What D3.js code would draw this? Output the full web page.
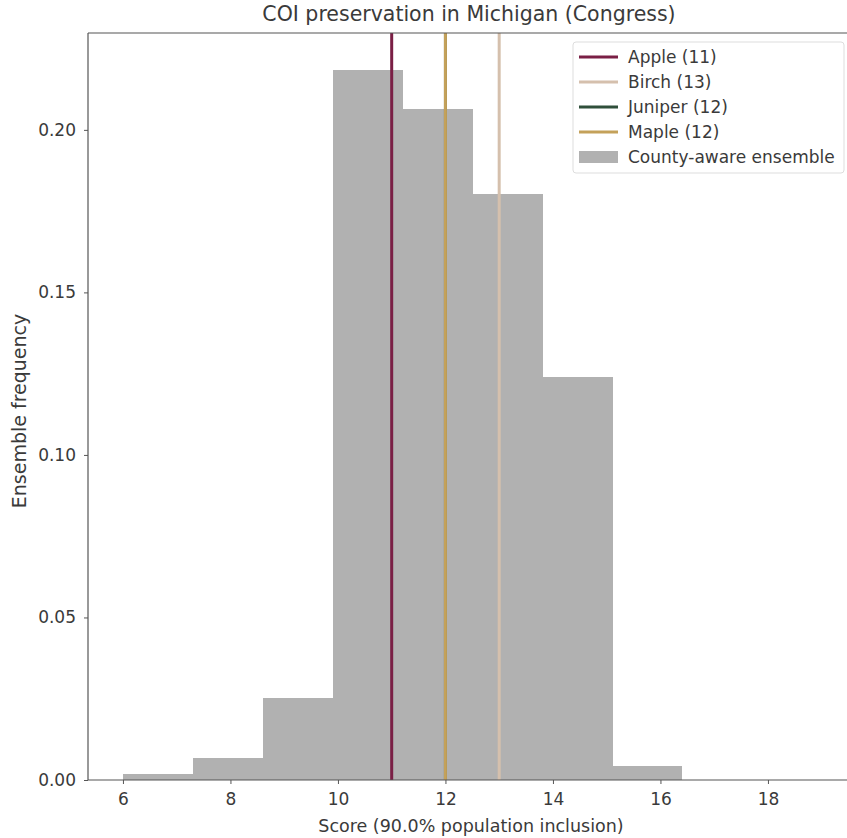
<!DOCTYPE html>
<html><head><meta charset="utf-8">
<script src="https://cdn.jsdelivr.net/npm/d3@7"></script>
<style>body{margin:0;background:#fff;} text{font-family:"DejaVu Sans",sans-serif;}</style>
</head><body>
<svg id="chart" width="847" height="838"></svg>
<script>
// Histogram bin edges (score) and density values
const binEdges = [6.0, 7.3, 8.6, 9.9, 11.2, 12.5, 13.8, 15.1, 16.4, 17.7, 19.0];
const binDensity = [0.0018, 0.0068, 0.0252, 0.2185, 0.2065, 0.1803, 0.1240, 0.0043, 0.0, 0.0];
// Plan scores (vertical lines)
const planNames = ["Apple", "Birch", "Juniper", "Maple"];
const planScores = [11, 13, 12, 12];
const planColors = ["#7a1f45", "#d5c0ad", "#2f4f3a", "#c4a15a"];
const xTicks = [6, 8, 10, 12, 14, 16, 18];
const yTicks = [0.00, 0.05, 0.10, 0.15, 0.20];
const ensembleLabel = "County-aware ensemble";
const barColor = "#b1b1b1";

const svg = d3.select("#chart");
const L = 88, T = 33, B = 780;
const x = d3.scaleLinear().domain([5.35, 19.65]).range([L, L + (19.65-5.35)*53.75]);
const y = d3.scaleLinear().domain([0, 0.2298]).range([B, T]);
const R = x(19.65);

const g = svg.append("g");
// bars
g.selectAll("rect.bar").data(binDensity).enter().append("rect")
  .attr("x", (d,i)=>x(binEdges[i]))
  .attr("width", (d,i)=>x(binEdges[i+1])-x(binEdges[i]) + 0.5)
  .attr("y", d=>y(d))
  .attr("height", d=>B-y(d))
  .attr("fill", barColor)
  .attr("shape-rendering", "crispEdges");
// vertical lines
g.selectAll("line.plan").data(planScores).enter().append("line")
  .attr("x1", d=>x(d)).attr("x2", d=>x(d))
  .attr("y1", T).attr("y2", B)
  .attr("stroke", (d,i)=>planColors[i]).attr("stroke-width", 3);

// axes
const xAxis = d3.axisBottom(x).tickValues(xTicks).tickFormat(d3.format("d")).tickSize(4).tickPadding(9);
const yAxis = d3.axisLeft(y).tickValues(yTicks).tickFormat(d3.format(".2f")).tickSize(4).tickPadding(8);
const gx = svg.append("g").attr("transform", `translate(0,${B})`).call(xAxis);
const gy = svg.append("g").attr("transform", `translate(${L},0)`).call(yAxis);
[gx, gy].forEach(a=>{
  a.select(".domain").remove();
  a.selectAll("text").attr("font-size", 17).attr("fill", "#3a3a3a");
  a.selectAll("line").attr("stroke", "#555");
});
// spines
svg.append("line").attr("x1", L).attr("x2", L).attr("y1", T).attr("y2", B).attr("stroke", "#555").attr("stroke-width", 1.2);
svg.append("line").attr("x1", L).attr("x2", R).attr("y1", B).attr("y2", B).attr("stroke", "#555").attr("stroke-width", 1.2);
svg.append("line").attr("x1", L).attr("x2", R).attr("y1", T).attr("y2", T).attr("stroke", "#555").attr("stroke-width", 1.2);

// title & labels
svg.append("text").attr("x", 469).attr("y", 21).attr("text-anchor", "middle").attr("font-size", 20.5).attr("fill", "#3a3a3a")
  .text("COI preservation in Michigan (Congress)");
svg.append("text").attr("x", 471).attr("y", 832).attr("text-anchor", "middle").attr("font-size", 17.5).attr("fill", "#3a3a3a")
  .text("Score (90.0% population inclusion)");
svg.append("text").attr("transform", "translate(26,411) rotate(-90)").attr("text-anchor", "middle").attr("font-size", 19).attr("fill", "#3a3a3a")
  .text("Ensemble frequency");

// legend
const lg = svg.append("g").attr("transform", "translate(573,42)");
lg.append("rect").attr("x", 0).attr("y", 0).attr("width", 271).attr("height", 131).attr("rx", 3)
  .attr("fill", "#fff").attr("fill-opacity", 0.85).attr("stroke", "#ddd");
planNames.forEach((n,i)=>{
  const yy = 15 + i*25;
  lg.append("line").attr("x1", 6).attr("x2", 45).attr("y1", yy).attr("y2", yy)
    .attr("stroke", planColors[i]).attr("stroke-width", 3);
  lg.append("text").attr("x", 55).attr("y", yy+6).attr("font-size", 17).attr("fill", "#3a3a3a")
    .text(`${n} (${planScores[i]})`);
});
const ey = 15 + 4*25;
lg.append("rect").attr("x", 6).attr("y", ey-6).attr("width", 39).attr("height", 12).attr("fill", barColor);
lg.append("text").attr("x", 55).attr("y", ey+6).attr("font-size", 17).attr("fill", "#3a3a3a").text(ensembleLabel);
</script>
</body></html>
